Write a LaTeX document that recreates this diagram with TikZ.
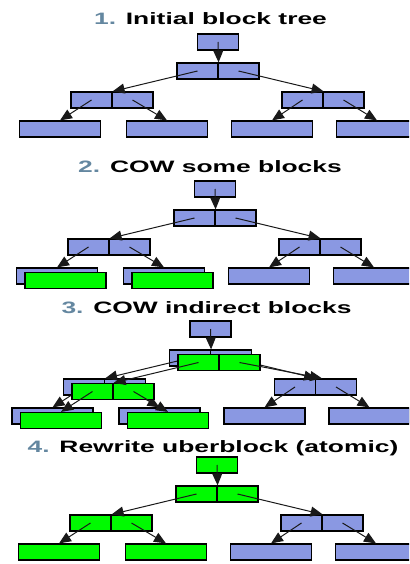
\documentclass[tikz,border=0pt]{standalone}
\usepackage{fontspec}
\setmainfont{Liberation Sans}
\usepackage{xcolor}
\usetikzlibrary{arrows.meta}

\definecolor{blkblue}{RGB}{138,152,226}
\definecolor{blkgreen}{RGB}{0,250,0}
\definecolor{numgray}{RGB}{100,135,160}

\tikzset{
  blk/.style={draw=black, line width=1.2pt, fill=blkblue, minimum width=41pt, minimum height=16pt, inner sep=0pt},
  leaf/.style={blk, minimum width=81pt},
  newblk/.style={fill=blkgreen},
  ptr/.style={draw=black!90, line width=1pt, -{Triangle[length=12pt,width=10pt]}},
  title/.style={anchor=base, inner sep=0pt, font=\bfseries\fontsize{16.5}{18}\selectfont}
}

\begin{document}
\begin{tikzpicture}[x=1pt, y=-1pt]
    \useasboundingbox (0,0) rectangle (409,564);
    \clip (0,0) rectangle (409,564);

    % Titles
    \node[title] (t1) at (210.5,25) {\scalebox{1.6}[1]{\textcolor{numgray}{1.} Initial block tree}};
    \node[title] (t2) at (210,172) {\scalebox{1.6}[1]{\textcolor{numgray}{2.} COW some blocks}};
    \node[title] (t3) at (206.5,313) {\scalebox{1.6}[1]{\textcolor{numgray}{3.} COW indirect blocks}};
    \node[title] (t4) at (213,452) {\scalebox{1.6}[1]{\textcolor{numgray}{4.} Rewrite uberblock (atomic)}};

    % 1. Initial block tree
    \begin{scope}[shift={(218,34)}]
        \node[blk] (u1) at (0,8) {};
        \node[blk] (m1a) at (-20.5,37) {};
        \node[blk] (m1b) at (20.5,37) {};
        \node[blk] (i1a) at (-126.5,66) {};
        \node[blk] (i1b) at (-85.5,66) {};
        \node[blk] (i1c) at (84.5,66) {};
        \node[blk] (i1d) at (125.5,66) {};
        \node[leaf] (d1a) at (-158,95) {};
        \node[leaf] (d1b) at (-51,95) {};
        \node[leaf] (d1c) at (54,95) {};
        \node[leaf] (d1d) at (159,95) {};
        \draw[ptr] (u1.center) -- (m1a.north east);
        \draw[ptr] (m1a.center) -- (i1a.north east);
        \draw[ptr] (m1b.center) -- (i1c.north east);
        \draw[ptr] (i1a.center) -- (d1a.north);
        \draw[ptr] (i1b.center) -- (d1b.north);
        \draw[ptr] (i1c.center) -- (d1c.north);
        \draw[ptr] (i1d.center) -- (d1d.north);
    \end{scope}

    % 2. COW some blocks
    \begin{scope}[shift={(215,181)}]
        \node[blk] (u2) at (0,8) {};
        \node[blk] (m2a) at (-20.5,37) {};
        \node[blk] (m2b) at (20.5,37) {};
        \node[blk] (i2a) at (-126.5,66) {};
        \node[blk] (i2b) at (-85.5,66) {};
        \node[blk] (i2c) at (84.5,66) {};
        \node[blk] (i2d) at (125.5,66) {};
        \node[leaf] (d2a) at (-158,95) {};
        \node[leaf] (d2b) at (-51,95) {};
        \node[leaf] (d2c) at (54,95) {};
        \node[leaf] (d2d) at (159,95) {};
        \draw[ptr] (u2.center) -- (m2a.north east);
        \draw[ptr] (m2a.center) -- (i2a.north east);
        \draw[ptr] (m2b.center) -- (i2c.north east);
        \draw[ptr] (i2a.center) -- (d2a.north);
        \draw[ptr] (i2b.center) -- (d2b.north);
        \draw[ptr] (i2c.center) -- (d2c.north);
        \draw[ptr] (i2d.center) -- (d2d.north);
        % copies
        \node[leaf, newblk] (d2na) at (-149.5,99.5) {};
        \node[leaf, newblk] (d2nb) at (-42.5,99.5) {};
    \end{scope}

    % 3. COW indirect blocks
    \begin{scope}[shift={(210.5,321)}]
        \node[blk] (u3) at (0,8) {};
        \node[blk] (m3a) at (-20.5,37) {};
        \node[blk] (m3b) at (20.5,37) {};
        \node[blk] (i3a) at (-126.5,66) {};
        \node[blk] (i3b) at (-85.5,66) {};
        \node[blk] (i3c) at (84.5,66) {};
        \node[blk] (i3d) at (125.5,66) {};
        \node[leaf] (d3a) at (-158,95) {};
        \node[leaf] (d3b) at (-51,95) {};
        \node[leaf] (d3c) at (54,95) {};
        \node[leaf] (d3d) at (159,95) {};
        \draw[ptr] (u3.center) -- (m3a.north east);
        \draw[ptr] (m3a.center) -- (i3a.north east);
        \draw[ptr] (m3b.center) -- (i3c.north east);
        \draw[ptr] (i3a.center) -- (d3a.north);
        \draw[ptr] (i3b.center) -- (d3b.north);
        \draw[ptr] (i3c.center) -- (d3c.north);
        \draw[ptr] (i3d.center) -- (d3d.north);
        % copies
        \node[blk, newblk] (m3na) at (-12,41.5) {};
        \node[blk, newblk] (m3nb) at (29,41.5) {};
        \node[blk, newblk] (i3na) at (-118,70.5) {};
        \node[blk, newblk] (i3nb) at (-77,70.5) {};
        \node[leaf, newblk] (d3na) at (-149.5,99.5) {};
        \node[leaf, newblk] (d3nb) at (-42.5,99.5) {};
        \draw[ptr] (m3na.center) -- (i3na.north east);
        \draw[ptr] (m3nb.center) -- ([xshift=6pt]i3c.north east);
        \draw[ptr] (i3na.center) -- (d3na.north);
        \draw[ptr] (i3nb.center) -- (d3nb.north);
    \end{scope}

    % 4. Rewrite uberblock (atomic)
    \begin{scope}[shift={(217,457)}]
        \node[blk, newblk] (u4) at (0,8) {};
        \node[blk, newblk] (m4a) at (-20.5,37) {};
        \node[blk, newblk] (m4b) at (20.5,37) {};
        \node[blk, newblk] (i4a) at (-126.5,66) {};
        \node[blk, newblk] (i4b) at (-85.5,66) {};
        \node[blk] (i4c) at (84.5,66) {};
        \node[blk] (i4d) at (125.5,66) {};
        \node[leaf, newblk] (d4a) at (-158,95) {};
        \node[leaf, newblk] (d4b) at (-51,95) {};
        \node[leaf] (d4c) at (54,95) {};
        \node[leaf] (d4d) at (159,95) {};
        \draw[ptr] (u4.center) -- (m4a.north east);
        \draw[ptr] (m4a.center) -- (i4a.north east);
        \draw[ptr] (m4b.center) -- (i4c.north east);
        \draw[ptr] (i4a.center) -- (d4a.north);
        \draw[ptr] (i4b.center) -- (d4b.north);
        \draw[ptr] (i4c.center) -- (d4c.north);
        \draw[ptr] (i4d.center) -- (d4d.north);
    \end{scope}
\end{tikzpicture}
\end{document}
